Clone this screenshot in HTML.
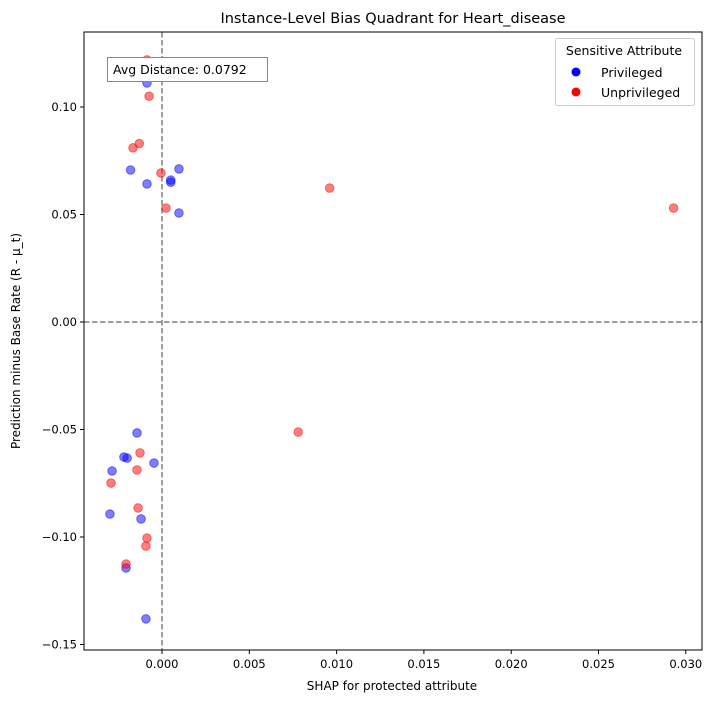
<!DOCTYPE html>
<html><head><meta charset="utf-8"><style>
body{margin:0;background:#fff;font-family:"Liberation Sans","DejaVu Sans",sans-serif}
svg text{font-family:"DejaVu Sans","Liberation Sans",sans-serif}
</style></head><body>
<svg id="chart" width="716" height="701">
<rect x="0" y="0" width="716" height="701" fill="#fff"/>
<g id="marks"></g>
<g id="axes"></g>
<text x="393" y="23" text-anchor="middle" font-size="14.5">Instance-Level Bias Quadrant for Heart_disease</text>
<text x="392" y="690" text-anchor="middle" font-size="12">SHAP for protected attribute</text>
<text transform="translate(20,341) rotate(-90)" text-anchor="middle" font-size="12">Prediction minus Base Rate (R - μ_t)</text>
<g>
<rect x="107.5" y="57.5" width="160" height="24" fill="#fff" stroke="#888"/>
<text x="113" y="74" font-size="12.5">Avg Distance: 0.0792</text>
</g>
<g>
<rect x="555.5" y="38.5" width="139" height="67" rx="2" fill="#fff" stroke="#ccc"/>
<text x="624" y="55" text-anchor="middle" font-size="12.5">Sensitive Attribute</text>
<g><circle cx="576" cy="72" r="4.5" fill="blue"/><text x="601" y="77" font-size="12.5">Privileged</text></g>
<g><circle cx="576" cy="92" r="4.5" fill="red"/><text x="601" y="97" font-size="12.5">Unprivileged</text></g>
</g>
</svg>
<script>
const privX=[-0.00086,-0.0018,-0.00086,0.0005,0.0005,0.00097,0.00097,-0.00143,-0.00218,-0.0020,-0.00046,-0.00286,-0.00298,-0.0012,-0.00206,-0.00092];
const privY=[0.1112,0.0707,0.0642,0.066,0.065,0.0712,0.0507,-0.0516,-0.0628,-0.0633,-0.0656,-0.0693,-0.0893,-0.0916,-0.1144,-0.1381];
const unprivX=[-0.00086,-0.00074,-0.0013,-0.00166,-0.00006,0.00023,0.0096,0.0293,0.0078,-0.00126,-0.00143,-0.00292,-0.00137,-0.00086,-0.00092,-0.00206];
const unprivY=[0.1219,0.105,0.083,0.081,0.0693,0.053,0.0623,0.053,-0.0512,-0.0609,-0.0688,-0.0749,-0.0865,-0.1005,-0.1042,-0.1126];
const xTicks=[0,0.005,0.01,0.015,0.02,0.025,0.03];
const xTickLabels=["0.000","0.005","0.010","0.015","0.020","0.025","0.030"];
const yTicks=[-0.15,-0.10,-0.05,0,0.05,0.10];
const yTickLabels=["−0.15","−0.10","−0.05","0.00","0.05","0.10"];
const NS="http://www.w3.org/2000/svg";
const L=84,R=702,T=32,B=650;
const sx=v=>162+v/0.005*87.3;
const sy=v=>322-v/0.05*107.5;
const marks=document.getElementById('marks'),axes=document.getElementById('axes');
function mk(tag,attrs,parent){const e=document.createElementNS(NS,tag);for(const k in attrs)e.setAttribute(k,attrs[k]);parent.appendChild(e);return e;}
let vl=mk('line',{x1:sx(0),x2:sx(0),y1:T,y2:B,stroke:'#808080','stroke-width':1.5,'stroke-dasharray':'5.5,2.5'},marks);


let hl=mk('line',{x1:L,x2:R,y1:sy(0),y2:sy(0),stroke:'#808080','stroke-width':1.5,'stroke-dasharray':'5.5,2.5'},marks);


privX.forEach((x,i)=>{const c=mk('circle',{cx:sx(x),cy:sy(privY[i]),r:4.3,fill:'blue','fill-opacity':0.5,stroke:'blue','stroke-opacity':0.5,'stroke-width':1},marks);

});
unprivX.forEach((x,i)=>{const c=mk('circle',{cx:sx(x),cy:sy(unprivY[i]),r:4.3,fill:'red','fill-opacity':0.5,stroke:'red','stroke-opacity':0.5,'stroke-width':1},marks);

});
const frame=mk('rect',{x:L,y:T,width:R-L,height:B-T,fill:'none',stroke:'#000','stroke-width':1},axes);


xTicks.forEach((v,i)=>{const x=sx(v);mk('line',{x1:x,x2:x,y1:B,y2:B+4,stroke:'#000'},axes);
const t=mk('text',{x:x,y:B+18,'text-anchor':'middle','font-size':11.5},axes);t.textContent=xTickLabels[i];

});
yTicks.forEach((v,i)=>{const y=sy(v);mk('line',{x1:L-4,x2:L,y1:y,y2:y,stroke:'#000'},axes);
const t=mk('text',{x:L-7,y:y+4,'text-anchor':'end','font-size':11.5},axes);t.textContent=yTickLabels[i];

});
</script>
</body></html>
